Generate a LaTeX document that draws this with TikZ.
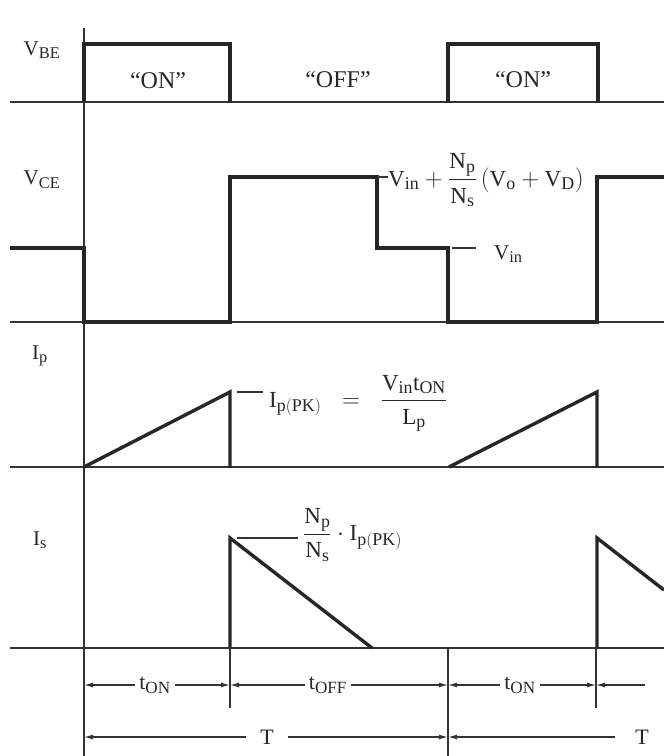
\documentclass[tikz,border=0pt]{standalone}
\usepackage{amsmath}
\usepackage{fontspec}
\setmainfont{Liberation Serif}
\renewcommand\defaultscriptratio{.78}
\renewcommand\defaultscriptscriptratio{.6}
\usetikzlibrary{arrows.meta}
\begin{document}
\begin{tikzpicture}[x=1pt,y=-1pt,
  wave/.style={line width=3.4pt, line join=miter, draw=black!85},
  axis/.style={line width=2.2pt, draw=black!80},
  leader/.style={line width=2pt, draw=black!80},
  dimline/.style={line width=1.2pt, draw=black!80},
  tip/.style={-{Latex[length=9pt,width=5pt]}},
  lbl/.style={font=\fontsize{21}{25}\selectfont, inner sep=1pt, text=black!85},
  frm/.style={font=\fontsize{23}{27}\selectfont, inner sep=1pt, text=black!85},
  big/.style={font=\fontsize{24}{28}\selectfont, inner sep=1pt, text=black!85},
  tlbl/.style={font=\fontsize{22}{26}\selectfont, inner sep=4pt, fill=white, text=black!85}
]
\useasboundingbox[fill=white] (0,0) rectangle (664,756);

% axis and baselines
\draw[axis] (84,28) -- (84,756);
\draw[axis] (10,102) -- (664,102);
\draw[axis] (10,322) -- (664,322);
\draw[axis] (10,467) -- (664,467);
\draw[axis] (10,648) -- (664,648);

% V_BE
\node[lbl] (vbe) at (42,50) {V$_{\mathrm{BE}}$};
\draw[wave] (84,102) -- (84,44) -- (230,44) -- (230,102);
\draw[wave] (448,102) -- (448,44) -- (598,44) -- (598,102);
\node[big] (on1) at (158,81) {“ON”};
\node[big] (off) at (338,80) {“OFF”};
\node[big] (on2) at (523,80) {“ON”};

% V_CE
\node[lbl] (vce) at (42,180) {V$_{\mathrm{CE}}$};
\draw[wave] (10,248) -- (84,248) -- (84,322) -- (230,322) -- (230,177) -- (377,177)
  -- (377,248) -- (448,248) -- (448,322) -- (597,322) -- (597,177) -- (664,177);
\coordinate (hA) at (377,177);
\coordinate (hB) at (388,177);
\draw[leader] (hA) -- (hB);
\node[frm, anchor=base west] (vhigh) at (387,186)
  {$\mathrm{V_{in}}+\dfrac{\mathrm{N_p}}{\mathrm{N_s}}\,(\mathrm{V_o}+\mathrm{V_D})$};
\coordinate (mA) at (452,248);
\coordinate (mB) at (476,248);
\draw[leader] (mA) -- (mB);
\node[lbl, anchor=base west] (vin) at (493,259) {V$_{\mathrm{in}}$};

% I_p
\node[lbl] (ip) at (40,356) {I$_{\mathrm{p}}$};
\draw[wave] (84,467) -- (230,392) -- (230,467);
\draw[wave] (449,467) -- (597,392) -- (597,467);
\coordinate (pA) at (237,392);
\coordinate (pB) at (263,392);
\draw[leader] (pA) -- (pB);
\node[frm, anchor=base west] (ipk) at (268,407)
  {$\mathrm{I_{p(PK)}}\;\;=\;\;\dfrac{\mathrm{V_{in}t_{ON}}}{\mathrm{L_p}}$};

% I_s
\node[lbl] (is) at (40,540) {I$_{\mathrm{s}}$};
\draw[wave] (230,648) -- (230,538) -- (372,648);
\draw[wave] (597,648) -- (597,538) -- (664,590);
\coordinate (sA) at (237,538);
\coordinate (sB) at (298,538);
\draw[leader] (sA) -- (sB);
\node[frm, anchor=west] (isk) at (302,535)
  {$\dfrac{\mathrm{N_p}}{\mathrm{N_s}}\cdot\mathrm{I_{p(PK)}}$};

% timing ticks
\coordinate (k1t) at (230,648); \coordinate (k1b) at (230,708);
\coordinate (k2t) at (448,648); \coordinate (k2b) at (448,756);
\coordinate (k3t) at (596,648); \coordinate (k3b) at (596,708);
\draw[dimline] (k1t) -- (k1b);
\draw[dimline] (k2t) -- (k2b);
\draw[dimline] (k3t) -- (k3b);

% row 1
\coordinate (a0) at (84,685);
\coordinate (a1) at (230,685);
\coordinate (a2) at (448,685);
\coordinate (a3) at (596,685);
\coordinate (a4) at (645,685);
\node[tlbl] (ton1) at (155,685) {t$_{\mathrm{ON}}$};
\node[tlbl] (toff) at (328,685) {t$_{\mathrm{OFF}}$};
\node[tlbl] (ton2) at (520,685) {t$_{\mathrm{ON}}$};
\draw[dimline, tip] (ton1.west) -- (a0);
\draw[dimline, tip] (ton1.east) -- (a1);
\draw[dimline, tip] (toff.west) -- (a1);
\draw[dimline, tip] (toff.east) -- (a2);
\draw[dimline, tip] (ton2.west) -- (a2);
\draw[dimline, tip] (ton2.east) -- (a3);
\draw[dimline, tip] (a4) -- (a3);

% row 2
\coordinate (b0) at (84,737);
\coordinate (b1) at (448,737);
\coordinate (b2) at (615,737);
\node[tlbl, inner xsep=14pt] (T1) at (267,737) {T};
\node[tlbl] (T2) at (642,737) {T};
\draw[dimline, tip] (T1.west) -- (b0);
\draw[dimline, tip] (T1.east) -- (b1);
\draw[dimline, tip] (b2) -- (b1);
\end{tikzpicture}
\end{document}
